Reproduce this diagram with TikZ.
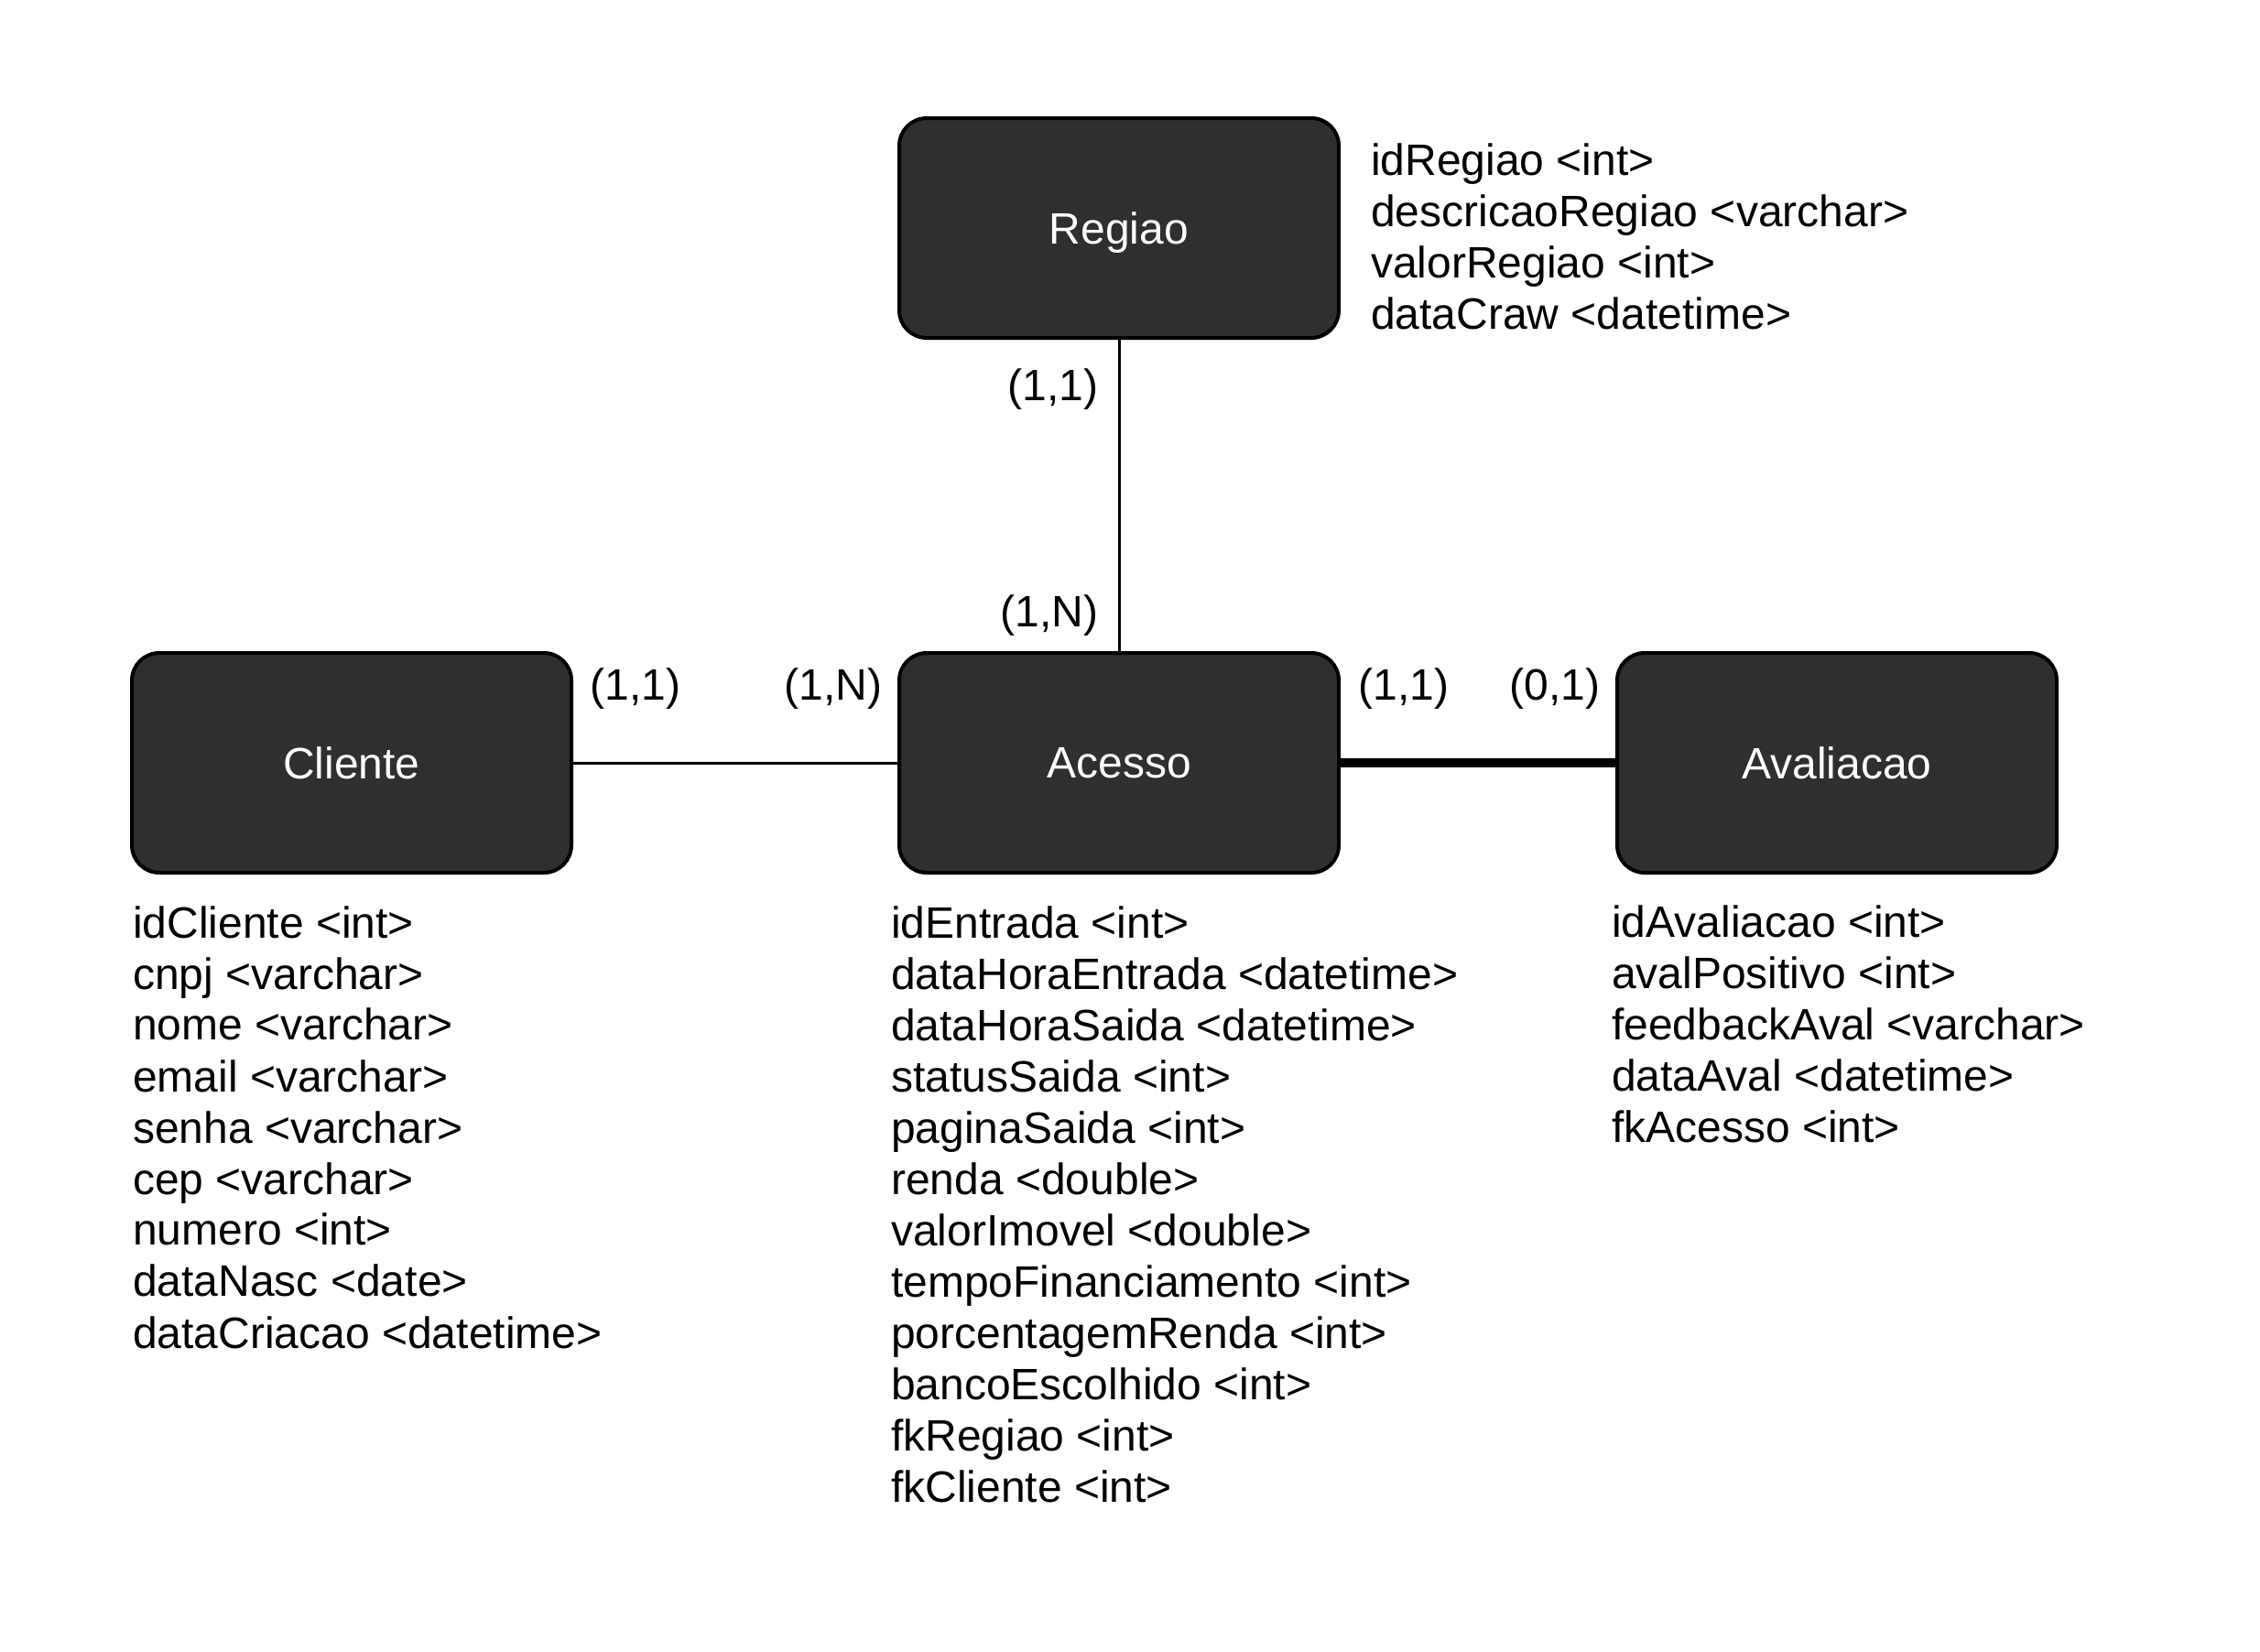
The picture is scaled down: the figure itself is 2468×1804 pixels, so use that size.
\documentclass[tikz,border=0pt]{standalone}
\usepackage{fontspec}
\setmainfont{Liberation Sans}
\definecolor{caixa}{HTML}{2F2F2F}
\begin{document}
\begin{tikzpicture}[x=1pt, y=-1pt,
    every node/.style={inner sep=0pt, font=\fontsize{48}{56}\selectfont},
    entidade/.style={draw=black, line width=4pt, fill=caixa, rounded corners=30pt,
      minimum width=480pt, minimum height=240pt, text depth=0pt, text=white},
    atributos/.style={anchor=north west, align=left},
    liga/.style={line width=3pt},
    ligaforte/.style={line width=10pt}]
          \useasboundingbox (0,0) rectangle (2468,1804);
          \node [entidade] (regiao) at (1222,249) {Regiao};
          \node [entidade] (cliente) at (384,833) {Cliente};
          \node [entidade] (acesso) at (1222,833) {Acesso};
          \node [entidade] (avaliacao) at (2006,833) {Avaliacao};
          \draw [liga] (regiao) -- (acesso);
          \draw [liga] (cliente) -- (acesso);
          \draw [ligaforte] (acesso) -- (avaliacao);
          % cardinalidades
          \node (c1) at (1150,425) {(1,1)};
          \node (c2) at (1146,672) {(1,N)};
          \node (c3) at (694,752) {(1,1)};
          \node (c4) at (910,752) {(1,N)};
          \node (c5) at (1533,752) {(1,1)};
          \node (c6) at (1698,752) {(0,1)};
          % atributos
          \node [atributos] (attrRegiao) at (1497,157) {idRegiao <int>\\descricaoRegiao <varchar>\\valorRegiao <int>\\dataCraw <datetime>};
          \node [atributos] (attrCliente) at (145,989) {idCliente <int>\\cnpj <varchar>\\nome <varchar>\\email <varchar>\\senha <varchar>\\cep <varchar>\\numero <int>\\dataNasc <date>\\dataCriacao <datetime>};
          \node [atributos] (attrAcesso) at (973,989) {idEntrada <int>\\dataHoraEntrada <datetime>\\dataHoraSaida <datetime>\\statusSaida <int>\\paginaSaida <int>\\renda <double>\\valorImovel <double>\\tempoFinanciamento <int>\\porcentagemRenda <int>\\bancoEscolhido <int>\\fkRegiao <int>\\fkCliente <int>};
          \node [atributos] (attrAvaliacao) at (1760,989) {idAvaliacao <int>\\avalPositivo <int>\\feedbackAval <varchar>\\dataAval <datetime>\\fkAcesso <int>};
        \end{tikzpicture}
\end{document}
